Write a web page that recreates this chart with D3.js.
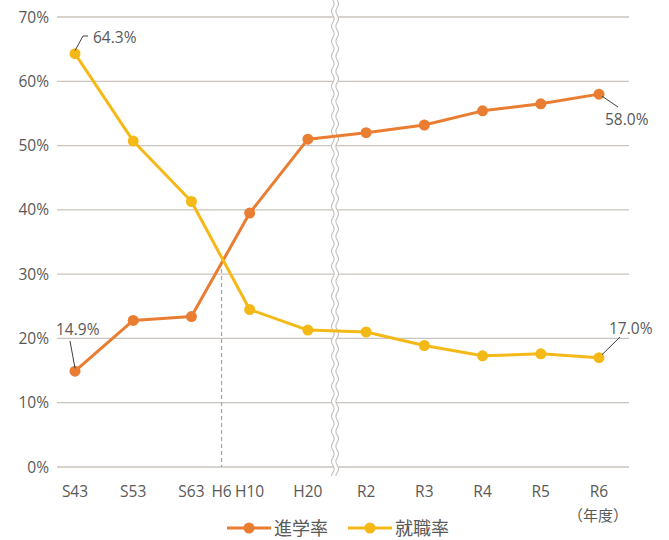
<!DOCTYPE html>
<html><head><meta charset="utf-8">
<script src="https://cdn.jsdelivr.net/npm/d3@7"></script>
<style>body{margin:0;background:#fff}svg{display:block}</style>
</head><body>
<svg id="c" width="669" height="540"></svg>
<script>
const categories = ["S43","S53","S63","H10","H20","R2","R3","R4","R5","R6"];
const advanceRate = [14.9,22.8,23.4,39.5,51.0,52.0,53.2,55.4,56.5,58.0];
const employRate = [64.3,50.7,41.3,24.5,21.3,21.0,18.9,17.3,17.6,17.0];
const yTicks = [0,10,20,30,40,50,60,70];
const seriesNames = ["進学率","就職率"];

const svg = d3.select("#c");
const font = "'Open Sans','Noto Sans CJK JP',sans-serif";
const textCol = "#595959";
const orange = "#E97D31", yellow = "#F5B917";
const x = d3.scalePoint().domain(categories).range([75, 599]);
const y = d3.scaleLinear().domain([0,70]).range([467, 17]);
const left = 57, right = 629;
const fs = 15.5;

// grid
svg.append("g").selectAll("line").data(yTicks).join("line")
  .attr("x1", left).attr("x2", right)
  .attr("y1", d=>y(d)).attr("y2", d=>y(d))
  .attr("stroke", "#c9c4bf").attr("stroke-width", 1.3);
svg.append("g").selectAll("text").data(yTicks).join("text")
  .attr("x", 49).attr("y", d=>y(d)+5.5).attr("text-anchor","end")
  .attr("font-family", font).attr("font-size", fs).attr("fill", textCol)
  .text(d=>d+"%");

// x labels
svg.append("g").selectAll("text").data(categories).join("text")
  .attr("x", d=>x(d)).attr("y", 497).attr("text-anchor","middle")
  .attr("font-family", font).attr("font-size", fs).attr("fill", textCol)
  .text(d=>d);
const xH6 = (x("S63")+x("H10"))/2 + 1;
svg.append("text").attr("x", xH6).attr("y", 497).attr("text-anchor","middle")
  .attr("font-family", font).attr("font-size", fs).attr("fill", textCol).text("H6");
svg.append("text").attr("x", x("R6")-1).attr("y", 521).attr("text-anchor","middle")
  .attr("font-family", "'Noto Sans CJK JP',sans-serif").attr("font-size", 15).attr("fill", textCol).text("（年度）");

// dashed H6 line
const lineGen = d3.line().x((d,i)=>x(categories[i])).y(d=>y(d));
svg.append("line").attr("x1", xH6).attr("x2", xH6).attr("y1", 262).attr("y2", y(0))
  .attr("stroke", "#a6a6a6").attr("stroke-width", 1.2).attr("stroke-dasharray", "4,3");

// break marker
const bx = (x("H20")+x("R2"))/2 - 2;
function wave(off){
  const pts = [];
  for(let yy=0; yy<=476; yy+=1){ pts.push([bx+off+1.3*Math.sin(yy/15*2*Math.PI), yy]); }
  return pts;
}
const wl = wave(-2.2), wr = wave(2.2);
svg.append("path").attr("d", d3.line()(wl.concat(wr.slice().reverse()))+"Z").attr("fill","#fff");
[wl, wr].forEach(p=>svg.append("path").attr("d", d3.line()(p)).attr("fill","none")
  .attr("stroke","#c4bfba").attr("stroke-width",1.1));

// series
[[advanceRate, orange],[employRate, yellow]].forEach(([vals,col])=>{
  svg.append("path").attr("d", lineGen(vals)).attr("fill","none")
    .attr("stroke", col).attr("stroke-width", 3).attr("stroke-linejoin","round");
  svg.append("g").selectAll("circle").data(vals).join("circle")
    .attr("cx",(d,i)=>x(categories[i])).attr("cy", d=>y(d)).attr("r", 5.5).attr("fill", col);
});

// annotations
const leader = "#404040";
function ann(px, py, pts, tx, ty, txt, anchor){
  svg.append("path").attr("d", d3.line()([[px,py]].concat(pts))).attr("fill","none")
    .attr("stroke", leader).attr("stroke-width", 1);
  svg.append("text").attr("x", tx).attr("y", ty).attr("text-anchor", anchor||"start")
    .attr("font-family", font).attr("font-size", fs).attr("fill", textCol).text(txt);
}
const n = categories.length-1;
ann(x("S43"), y(employRate[0])-3, [[83,36],[88,36]], 93, 43, employRate[0].toFixed(1)+"%");
ann(x("S43"), y(advanceRate[0])-3, [[70,341]], 56, 335, advanceRate[0].toFixed(1)+"%");
ann(x("R6")+3, y(advanceRate[n])+2, [[618,107]], 605, 125, advanceRate[n].toFixed(1)+"%");
ann(x("R6")+3, y(employRate[n])-3, [[620,337]], 609, 334, employRate[n].toFixed(1)+"%");

// legend
const leg = [[227, orange, seriesNames[0]],[348, yellow, seriesNames[1]]];
leg.forEach(([lx,col,name])=>{
  svg.append("line").attr("x1",lx).attr("x2",lx+44).attr("y1",528).attr("y2",528)
    .attr("stroke",col).attr("stroke-width",3);
  svg.append("circle").attr("cx",lx+22).attr("cy",528).attr("r",5.5).attr("fill",col);
  svg.append("text").attr("x",lx+47).attr("y",535).attr("font-family","'Noto Sans CJK JP',sans-serif")
    .attr("font-size",18).attr("fill",textCol).text(name);
});
</script>
</body></html>
